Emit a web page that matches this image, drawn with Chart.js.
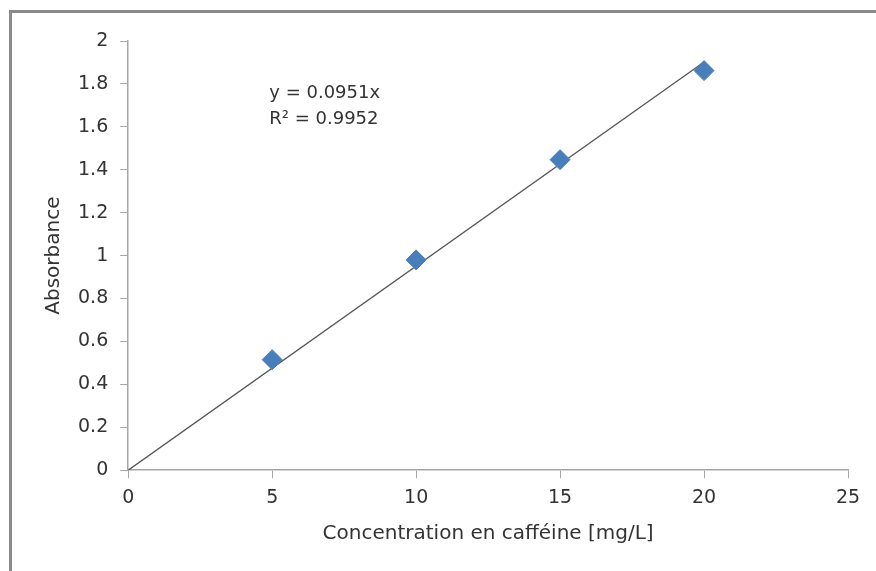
<!DOCTYPE html>
<html>
<head>
<meta charset="utf-8">
<script src="https://cdn.jsdelivr.net/npm/chart.js@4/dist/chart.umd.min.js"></script>
<style>
  body { margin: 0; background: #fff; overflow: hidden; }
  #frame { position: absolute; left: 9px; top: 10px; width: 900px; height: 600px; border: 3px solid #8a8a8a; box-sizing: border-box; }
  #wrap { position: absolute; left: 0; top: 0; width: 876px; height: 571px; }
</style>
</head>
<body>
<div id="frame"></div>
<div id="wrap"><canvas id="chart" width="876" height="571"></canvas></div>
<script>
// caffeine calibration data
var concentrations = [5, 10, 15, 20];
var absorbances = [0.515, 0.98, 1.447, 1.862];
var trendX = [0, 20];
var trendY = [0, 1.902];
var equationLines = ["y = 0.0951x", "R\u00b2 = 0.9952"];
var xTitle = "Concentration en caff\u00e9ine [mg/L]";
var yTitle = "Absorbance";

var font = "'DejaVu Sans', sans-serif";
var axisGray = "#a6a6a6";
var textColor = "#333";

var pts = [];
for (let i = 0; i < concentrations.length; i++) {
    pts.push({x: concentrations[i], y: absorbances[i]});
}
var trend = [];
for (let i = 0; i < trendX.length; i++) {
    trend.push({x: trendX[i], y: trendY[i]});
}

// equation label, anchored to data coordinates
var equationPlugin = {
    id: "equation",
    afterDatasetsDraw: function(chart) {
        var c = chart.ctx;
        var x = chart.scales.x.getPixelForValue(4.9);
        var y = chart.scales.y.getPixelForValue(1.755);
        c.save();
        c.font = "18px " + font;
        c.fillStyle = textColor;
        c.textBaseline = "middle";
        c.fillText(equationLines[0], x, y);
        c.fillText(equationLines[1], x, y + 26);
        c.restore();
    }
};

var ctx = document.getElementById("chart").getContext("2d");
var myChart = new Chart(ctx, {
    type: "scatter",
    data: {
        datasets: [
            {
                label: "Trend",
                type: "line",
                data: trend,
                borderColor: "#555",
                borderWidth: 1.3,
                pointRadius: 0,
                fill: false,
                order: 2
            },
            {
                label: "Absorbance",
                data: pts,
                pointStyle: "rectRot",
                pointRadius: 10,
                backgroundColor: "#4a7ebb",
                borderColor: "#4a7ebb",
                borderWidth: 1,
                order: 1
            }
        ]
    },
    options: {
        responsive: false,
        animation: false,
        layout: { padding: { left: 38, top: 41, right: 28, bottom: 21 } },
        plugins: {
            legend: { display: false },
            tooltip: { enabled: false }
        },
        scales: {
            x: {
                type: "linear",
                min: 0,
                max: 25,
                ticks: { stepSize: 5, color: textColor, font: { family: font, size: 19 }, padding: 8 },
                grid: { drawOnChartArea: false, drawTicks: true, tickLength: 8, color: axisGray },
                border: { color: axisGray, width: 1.5 },
                title: { display: true, text: xTitle, color: textColor, font: { family: font, size: 20 }, padding: { top: 5 } }
            },
            y: {
                min: 0,
                max: 2,
                ticks: { stepSize: 0.2, color: textColor, font: { family: font, size: 19 }, padding: 12,
                    callback: function(v) { return Math.round(v * 10) / 10; } },
                grid: { drawOnChartArea: false, drawTicks: true, tickLength: 8, color: axisGray },
                border: { color: axisGray, width: 1.5 },
                title: { display: true, text: yTitle, color: textColor, font: { family: font, size: 20 }, padding: { top: 4, bottom: 0 } }
            }
        }
    },
    plugins: [equationPlugin]
});
</script>
</body>
</html>
